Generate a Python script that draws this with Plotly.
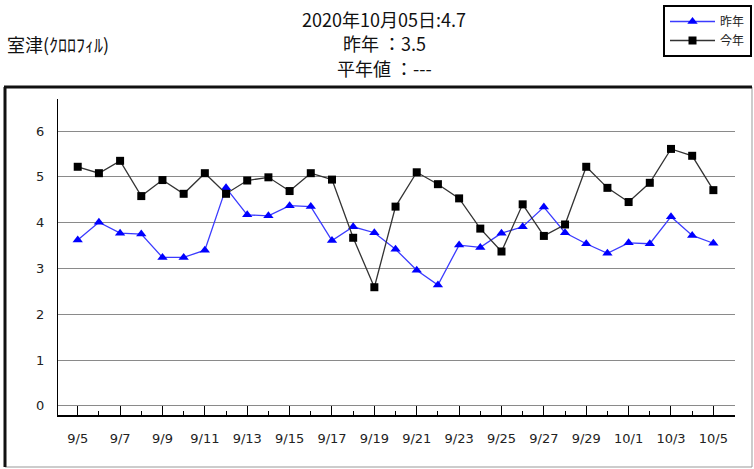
import plotly.graph_objects as go
import pandas as pd

dates = pd.date_range("2020-09-05", "2020-10-05", freq="D").strftime("%Y-%m-%d").tolist()

last_year = [3.62, 4.01, 3.77, 3.75, 3.24, 3.24, 3.40, 4.76, 4.17, 4.15, 4.37, 4.35, 3.61, 3.91, 3.78,
             3.42, 2.96, 2.64, 3.51, 3.46, 3.77, 3.91, 4.34, 3.78, 3.54, 3.33, 3.56, 3.54, 4.13, 3.72, 3.55]
this_year = [5.22, 5.08, 5.35, 4.58, 4.93, 4.63, 5.08, 4.63, 4.92, 4.99, 4.69, 5.08, 4.94, 3.67, 2.59,
             4.35, 5.10, 4.84, 4.53, 3.87, 3.37, 4.40, 3.71, 3.96, 5.22, 4.76, 4.45, 4.87, 5.61, 5.46, 4.71]

title_lines = ["2020年10月05日:4.7", "昨年 ：3.5", "平年値 ：---"]
station_label = "室津(ｸﾛﾛﾌｨﾙ)"
series_names = ["昨年", "今年"]
y_ticks = [0, 1, 2, 3, 4, 5, 6]

JP = "Noto Sans CJK JP"
TICKF = "DejaVu Sans"

fig = go.Figure()
fig.add_trace(go.Scatter(x=dates, y=last_year, name=series_names[0], mode="lines+markers",
                         line=dict(color="#3b3bff", width=1.3),
                         marker=dict(symbol="triangle-up", size=9, color="#0000ff")))
fig.add_trace(go.Scatter(x=dates, y=this_year, name=series_names[1], mode="lines+markers",
                         line=dict(color="#333333", width=1.3),
                         marker=dict(symbol="square", size=8, color="#000000")))

L, R, T, B = 58, 19, 99, 54
W, H = 754, 469
pw, ph = W - L - R, H - T - B

def px(x):
    return (x - L) / pw

def py(y):
    return (H - B - y) / ph

fig.update_layout(
    width=W, height=H,
    margin=dict(l=L, r=R, t=T, b=B, autoexpand=False),
    paper_bgcolor="white", plot_bgcolor="white",
    showlegend=True,
    legend=dict(x=px(752), y=py(31), xanchor="right", yanchor="middle",
                bordercolor="black", borderwidth=2, bgcolor="white",
                font=dict(family=JP, size=12, color="#222"),
                tracegroupgap=0, itemwidth=45),
    xaxis=dict(type="date", range=["2020-09-04 01:40", "2020-10-06 00:30"],
               tick0="2020-09-05", dtick=2 * 86400000, tickformat="%-m/%-d",
               ticks="inside", ticklen=9, tickcolor="black", tickwidth=1,
               minor=dict(dtick=86400000, tick0="2020-09-05", ticks="inside", ticklen=4,
                          tickcolor="black", showgrid=False),
               showline=True, linecolor="black", linewidth=2,
               showgrid=False, zeroline=False,
               tickfont=dict(family=TICKF, size=13, color="#222"),
               ticklabelstandoff=10),
    yaxis=dict(range=[-0.2, 6.7], tickvals=y_ticks,
               showline=True, linecolor="black", linewidth=1,
               showgrid=True, gridcolor="#8a8a8a", gridwidth=1, zeroline=False,
               ticks="", tickfont=dict(family=TICKF, size=13, color="#222"),
               ticklabelstandoff=10),
)

annots = []
for i, t in enumerate(title_lines):
    annots.append(dict(text=t, x=px(384), y=py([19, 43, 68][i]), xref="paper", yref="paper",
                       xanchor="center", yanchor="middle", showarrow=False,
                       font=dict(family=JP, size=18, color="#111")))
annots.append(dict(text=station_label, x=px(5), y=py(44), xref="paper", yref="paper",
                   xanchor="left", yanchor="middle", showarrow=False,
                   font=dict(family=JP, size=18, color="#111")))
fig.update_layout(annotations=annots)

# outer frame
fig.add_shape(type="rect", xref="paper", yref="paper",
              x0=px(5), x1=px(752), y0=py(467), y1=py(87),
              line=dict(color="#999", width=1), layer="below")
fig.add_shape(type="line", xref="paper", yref="paper",
              x0=px(4), x1=px(752), y0=py(87), y1=py(87),
              line=dict(color="#111", width=3))
fig.add_shape(type="line", xref="paper", yref="paper",
              x0=px(5), x1=px(5), y0=py(87), y1=py(467),
              line=dict(color="#111", width=3))

fig.write_html("out.html", config={"displayModeBar": False},
               post_script="document.body.style.margin='0';document.body.style.padding='0';")
